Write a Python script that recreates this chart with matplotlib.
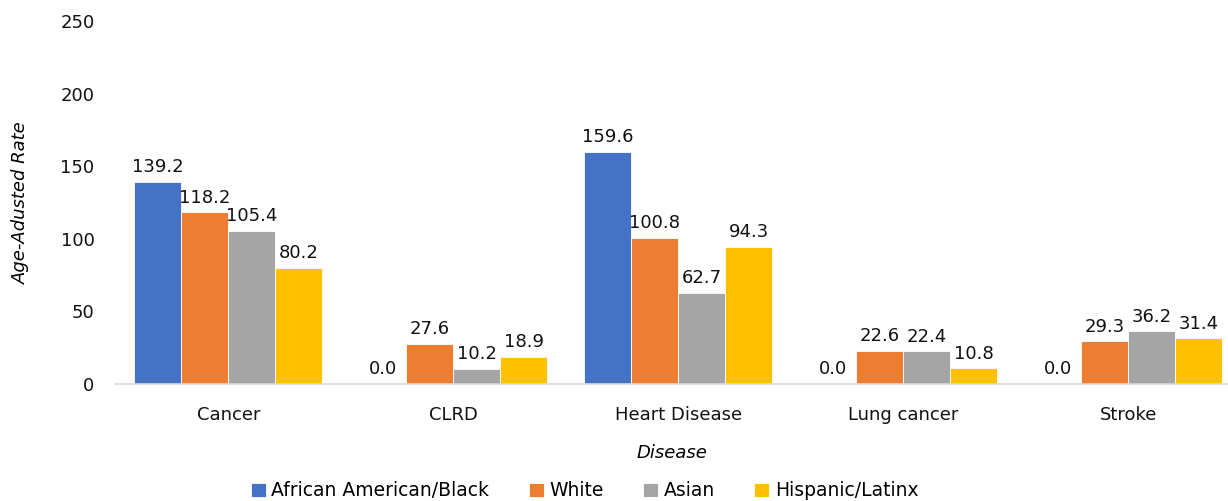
import numpy as np
import matplotlib.pyplot as plt

# values
diseases = ['Cancer', 'CLRD', 'Heart Disease', 'Lung cancer', 'Stroke']
groups = ['African American/Black', 'White', 'Asian', 'Hispanic/Latinx']
black = [139.2, 0.0, 159.6, 0.0, 0.0]
white = [118.2, 27.6, 100.8, 22.6, 29.3]
asian = [105.4, 10.2, 62.7, 22.4, 36.2]
hispanic = [80.2, 18.9, 94.3, 10.8, 31.4]
colors = ['#4472C4', '#ED7D31', '#A5A5A5', '#FFC000']

plt.rcParams['font.family'] = ['DejaVu Sans']

fig = plt.figure(figsize=(12.28, 5.01), dpi=100)
ax = fig.add_axes([0.094, 0.2335, 0.906, 0.7246])

x = np.arange(len(diseases))
width = 0.209
series = [black, white, asian, hispanic]
for i, (vals, name, col) in enumerate(zip(series, groups, colors)):
    pos = x + (i - 1.5) * width
    bars = ax.bar(pos, vals, width, color=col, label=name,
                  edgecolor='white', linewidth=0.6)
    for b, v in zip(bars, vals):
        ax.text(b.get_x() + b.get_width() / 2, v + 4, f'{v:.1f}',
                ha='center', va='bottom', fontsize=13, color='#111111')

ax.set_xlim(-0.502, 4.444)
ax.set_ylim(0, 250)
ax.set_yticks(range(0, 251, 50))
ax.set_xticks(x)
ax.set_xticklabels(diseases)
ax.tick_params(length=0, labelsize=13, colors='#111111')
ax.tick_params(axis='x', pad=16)
ax.tick_params(axis='y', pad=15)
for s in ['top', 'right', 'left']:
    ax.spines[s].set_visible(False)
ax.spines['bottom'].set_color('#D9D9D9')
ax.spines['bottom'].set_linewidth(1.2)

ax.set_ylabel('Age-Adusted Rate', fontsize=13, style='italic')
ax.yaxis.set_label_coords(-0.077, 0.5)
ax.set_xlabel('Disease', fontsize=13, style='italic', labelpad=14)

fig.legend(loc='center', bbox_to_anchor=(0.476, 0.02), ncol=4, frameon=False,
           fontsize=13.5, handlelength=0.8, handleheight=0.8,
           handletextpad=0.3, columnspacing=2.1)

fig.savefig('out.png', dpi=100)
